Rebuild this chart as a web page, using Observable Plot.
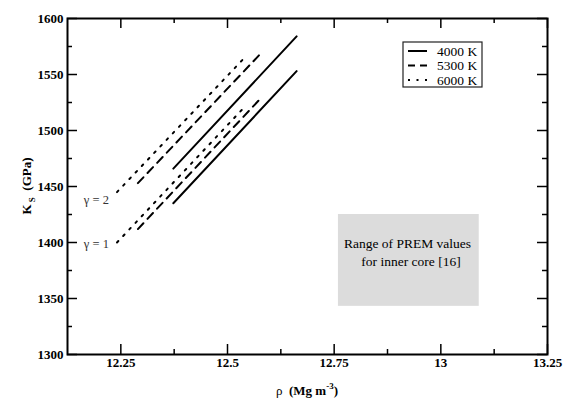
<!DOCTYPE html>
<html><head><meta charset="utf-8">
<script src="https://cdn.jsdelivr.net/npm/d3@7"></script>
<script src="https://cdn.jsdelivr.net/npm/@observablehq/plot@0.6"></script>
<style>
body{margin:0;background:#fff;}
#chart{position:relative;width:564px;height:402px;}
#chart svg, #chart svg text{font-family:"Liberation Serif","Times New Roman",Tinos,"DejaVu Serif",serif !important;}
</style></head><body><div id="chart"></div>
<script>
// ---- data ----
const temps = ["4000 K", "5300 K", "6000 K"];
const dashStyles = ["none", "8,6", "2,7"];
const rhoStart = [12.373, 12.290, 12.241];
const rhoEnd   = [12.662, 12.581, 12.535];
const ksStartG1 = [1435, 1412, 1400];
const ksEndG1   = [1553, 1530, 1519];
const ksStartG2 = [1466, 1453, 1445];
const ksEndG2   = [1584, 1570, 1563];
const gammaLabels = ["γ = 2", "γ = 1"];
const gammaRho = [12.222, 12.222];
const gammaKs = [1438, 1398.5];
const premRho = [12.76, 13.09];
const premKs = [1343, 1425];
const premText = ["Range of PREM values", "for inner core [16]"];
const premTextRho = [12.922, 12.930];
const premTextKs = [1399, 1383];
const xMajor = [12.25, 12.5, 12.75, 13, 13.25];
const xMinor = [12.375, 12.625, 12.875, 13.125];
const yMajor = [1300, 1350, 1400, 1450, 1500, 1550, 1600];
const yMinor = [1325, 1375, 1425, 1475, 1525, 1575];

// ---- layout ----
const W = 564, H = 402, mL = 67, mR = 17, mT = 18, mB = 48;
const pw = W - mL - mR, ph = H - mT - mB;
const majorLen = 10, minorLen = 5;
const FONT = "Liberation Serif, Times New Roman, serif";

const lineRows = [];
temps.forEach((t, i) => {
  lineRows.push({t, id: t + "g1", rho: rhoStart[i], ks: ksStartG1[i]});
  lineRows.push({t, id: t + "g1", rho: rhoEnd[i], ks: ksEndG1[i]});
  lineRows.push({t, id: t + "g2", rho: rhoStart[i], ks: ksStartG2[i]});
  lineRows.push({t, id: t + "g2", rho: rhoEnd[i], ks: ksEndG2[i]});
});
const prem = [{x1: premRho[0], x2: premRho[1], y1: premKs[0], y2: premKs[1]}];
const premRows = premText.map((s, i) => ({s, x: premTextRho[i], y: premTextKs[i]}));
const gammaRows = gammaLabels.map((s, i) => ({s, x: gammaRho[i], y: gammaKs[i]}));

const fmt = d => String(d);
const tickStyle = {stroke: "black", strokeWidth: 1.5};
const plot = Plot.plot({
  width: W, height: H, marginLeft: mL, marginRight: mR, marginTop: mT, marginBottom: mB,
  x: {domain: [12.125, 13.25]},
  y: {domain: [1300, 1600]},
  style: {fontFamily: FONT, fontSize: "13px", background: "white", color: "black"},
  marks: [
    Plot.rect(prem, {x1: "x1", x2: "x2", y1: "y1", y2: "y2", fill: "#dcdcdc"}),
    Plot.text(premRows, {x: "x", y: "y", text: "s", fontSize: 13.5, fill: "black"}),
    Plot.text(gammaRows, {x: "x", y: "y", text: "s", textAnchor: "end", fontSize: 12.5, fill: "#333"}),
    ...temps.map((t, i) => Plot.line(lineRows.filter(d => d.t === t), {
      x: "rho", y: "ks", z: "id", stroke: "black", strokeWidth: 2,
      strokeDasharray: dashStyles[i] === "none" ? null : dashStyles[i]
    })),
    Plot.ruleX(xMajor, {x: d => d, ...tickStyle, insetTop: ph - majorLen}),
    Plot.ruleX(xMajor, {x: d => d, ...tickStyle, insetBottom: ph - majorLen}),
    Plot.ruleX(xMinor, {x: d => d, ...tickStyle, insetTop: ph - minorLen}),
    Plot.ruleX(xMinor, {x: d => d, ...tickStyle, insetBottom: ph - minorLen}),
    Plot.ruleY(yMajor, {y: d => d, ...tickStyle, insetRight: pw - majorLen}),
    Plot.ruleY(yMajor, {y: d => d, ...tickStyle, insetLeft: pw - majorLen}),
    Plot.ruleY(yMinor, {y: d => d, ...tickStyle, insetRight: pw - minorLen}),
    Plot.ruleY(yMinor, {y: d => d, ...tickStyle, insetLeft: pw - minorLen}),
    Plot.axisX(xMajor, {tickSize: 0, tickPadding: 3, label: null, tickFormat: fmt, fontWeight: "bold", fontSize: 13}),
    Plot.axisY(yMajor, {tickSize: 0, tickPadding: 4, label: null, tickFormat: fmt, fontWeight: "bold", fontSize: 13}),
    Plot.frame({stroke: "black", strokeWidth: 2})
  ]
});
document.getElementById("chart").appendChild(plot);

// ---- axis titles and legend ----
const svg = d3.select(plot);
const xt = svg.append("text").attr("x", mL + pw / 2).attr("y", 395)
  .attr("text-anchor", "middle").attr("font-size", 13).attr("font-weight", "bold").attr("fill", "black");
xt.append("tspan").attr("font-weight", "normal").text("ρ  ");
xt.append("tspan").text("(Mg m");
xt.append("tspan").attr("font-size", 9).attr("dy", -6).text("-3");
xt.append("tspan").attr("dy", 6).text(")");

const yt = svg.append("text").attr("transform", `translate(31,${mT + ph / 2}) rotate(-90)`)
  .attr("text-anchor", "middle").attr("font-size", 13).attr("font-weight", "bold").attr("fill", "black");
yt.append("tspan").text("K");
yt.append("tspan").attr("font-size", 9).attr("dy", 4).text(" S");
yt.append("tspan").attr("dy", -4).text("  (GPa)");

const lg = svg.append("g");
lg.append("rect").attr("x", 403).attr("y", 42).attr("width", 79).attr("height", 45)
  .attr("fill", "white").attr("stroke", "#222").attr("stroke-width", 1.2);
temps.forEach((t, i) => {
  const cy = 51 + i * 14.5;
  lg.append("line").attr("x1", 408).attr("x2", 427).attr("y1", cy).attr("y2", cy)
    .attr("stroke", "black").attr("stroke-width", 2)
    .attr("stroke-dasharray", dashStyles[i] === "none" ? null : (i === 1 ? "7,5" : "2,6.5"));
  lg.append("text").attr("x", 437).attr("y", cy).attr("dy", "0.35em")
    .attr("text-anchor", "start").attr("font-size", 13.5).attr("fill", "black").text(t);
});
</script></body></html>
